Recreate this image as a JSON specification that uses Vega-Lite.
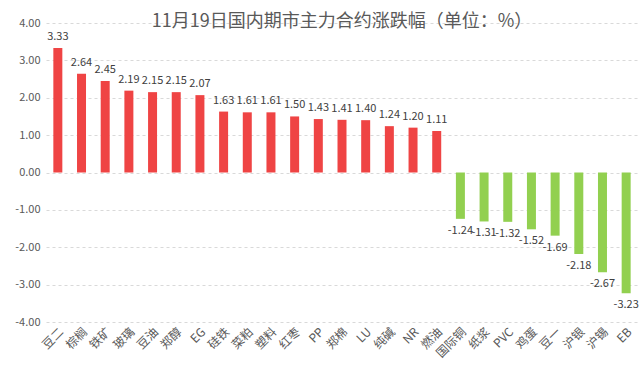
{
  "$schema": "https://vega.github.io/schema/vega-lite/v6.json",
  "width": 592,
  "height": 299,
  "autosize": {"type": "none"},
  "padding": {"left": 46, "top": 23, "right": 6, "bottom": 57},
  "background": "white",
  "view": {"stroke": null},
  "config": {
    "font": "Noto Sans CJK SC",
    "locale": {"number": {"decimal": ".", "thousands": ",", "grouping": [3], "currency": ["", ""], "minus": "-"}}
  },
  "title": {
    "text": "11月19日国内期市主力合约涨跌幅（单位：%）",
    "fontSize": 18,
    "fontWeight": "normal",
    "color": "#595959",
    "anchor": "middle",
    "offset": -14
  },
  "data": {
    "values": [
      {"name": "豆二", "v": 3.33},
      {"name": "棕榈", "v": 2.64},
      {"name": "铁矿", "v": 2.45},
      {"name": "玻璃", "v": 2.19},
      {"name": "豆油", "v": 2.15},
      {"name": "郑醇", "v": 2.15},
      {"name": "EG", "v": 2.07},
      {"name": "硅铁", "v": 1.63},
      {"name": "菜粕", "v": 1.61},
      {"name": "塑料", "v": 1.61},
      {"name": "红枣", "v": 1.50},
      {"name": "PP", "v": 1.43},
      {"name": "郑棉", "v": 1.41},
      {"name": "LU", "v": 1.40},
      {"name": "纯碱", "v": 1.24},
      {"name": "NR", "v": 1.20},
      {"name": "燃油", "v": 1.11},
      {"name": "国际铜", "v": -1.24},
      {"name": "纸浆", "v": -1.31},
      {"name": "PVC", "v": -1.32},
      {"name": "鸡蛋", "v": -1.52},
      {"name": "豆一", "v": -1.69},
      {"name": "沪银", "v": -2.18},
      {"name": "沪锡", "v": -2.67},
      {"name": "EB", "v": -3.23}
    ]
  },
  "encoding": {
    "x": {
      "field": "name",
      "type": "nominal",
      "sort": null,
      "scale": {"paddingInner": 0.62, "paddingOuter": 0.31},
      "axis": {
        "title": null,
        "labelAngle": -45,
        "labelFontSize": 12,
        "labelColor": "#595959",
        "domain": false,
        "ticks": false,
        "labelPadding": 4,
        "labelOverlap": false
      }
    },
    "y": {
      "field": "v",
      "type": "quantitative",
      "scale": {"domain": [-4, 4], "nice": false},
      "axis": {
        "title": null,
        "values": [-4, -3, -2, -1, 0, 1, 2, 3, 4],
        "format": ".2f",
        "labelFontSize": 11,
        "labelColor": "#595959",
        "domain": false,
        "ticks": false,
        "labelPadding": 6,
        "grid": true,
        "gridColor": "#d9d9d9",
        "gridDash": [3, 3]
      }
    }
  },
  "layer": [
    {
      "mark": {"type": "bar"},
      "encoding": {
        "color": {
          "condition": {"test": "datum.v >= 0", "value": "#ef4444"},
          "value": "#92d050"
        }
      }
    },
    {
      "transform": [{"filter": "datum.v >= 0"}],
      "mark": {"type": "text", "fontSize": 11, "color": "#404040", "baseline": "bottom", "dy": -6},
      "encoding": {
        "text": {"field": "v", "type": "quantitative", "format": ".2f"}
      }
    },
    {
      "transform": [{"filter": "datum.v < 0"}],
      "mark": {"type": "text", "fontSize": 11, "color": "#404040", "baseline": "top", "dy": 6},
      "encoding": {
        "text": {"field": "v", "type": "quantitative", "format": ".2f"}
      }
    }
  ]
}
